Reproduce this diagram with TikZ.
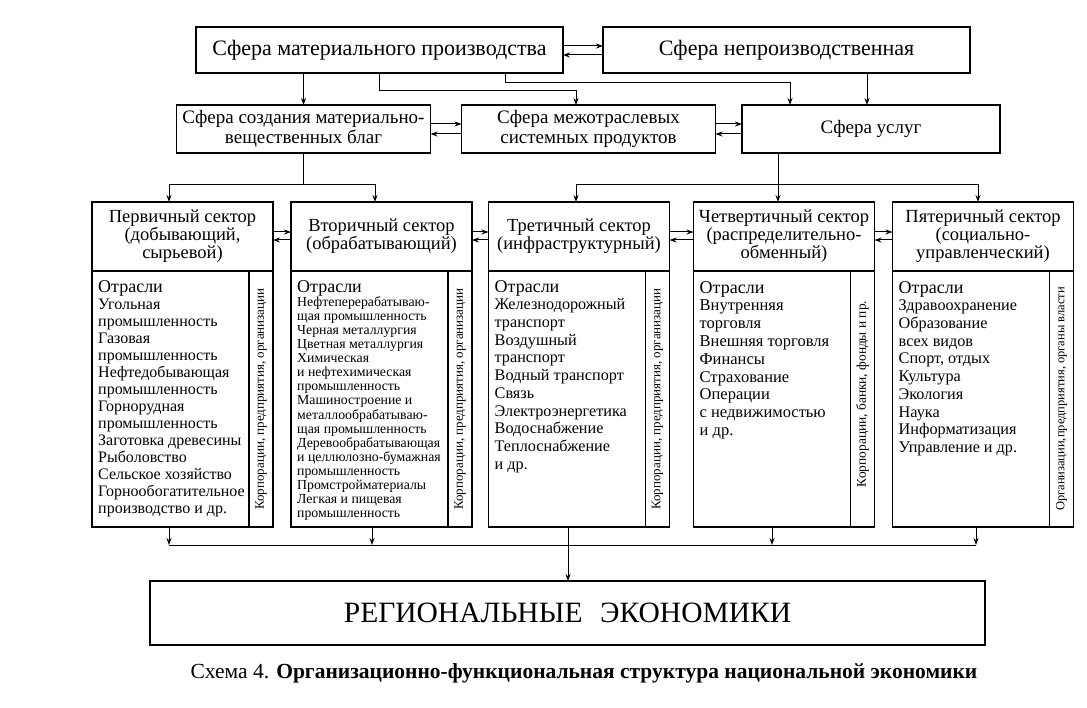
\documentclass[tikz,border=0pt]{standalone}
\usepackage{fontspec}
\setmainfont{Liberation Serif}
\usetikzlibrary{arrows.meta,calc,positioning}

\newcommand{\fs}[2]{\fontsize{#1}{#2}\selectfont}

\tikzset{
  sbox/.style={draw, line width=1.3pt, align=center, inner sep=1pt, outer sep=0pt},
  topbox/.style={sbox, minimum width=367pt, minimum height=46pt, font=\fs{22}{24}},
  midbox/.style={sbox, minimum width=254pt, minimum height=48pt, font=\fs{19}{20}},
  secthead/.style={sbox, minimum width=181pt, minimum height=69pt, font=\fs{18.5}{18}},
  sectbody/.style={draw, line width=1.3pt, minimum width=181pt, minimum height=256pt, outer sep=0pt},
  branches/.style={anchor=north west, align=left, inner sep=0pt},
  sidelabel/.style={rotate=90, inner sep=0pt, font=\fs{13}{14}},
  conn/.style={line width=1pt, -{Stealth[length=7pt,width=5pt]}},
  wire/.style={line width=1pt},
}

\begin{document}
\begin{tikzpicture}[x=1pt,y=-1pt]
\useasboundingbox (0,0) rectangle (1087,708);

% first level: the two spheres
\node[topbox] (matprod) at (379.5,50) {Сфера материального производства};
\node[topbox] (neprod) at (786.5,50) {Сфера непроизводственная};
\draw[conn] ([yshift=4pt]matprod.east) -- ([yshift=4pt]neprod.west);
\draw[conn] ([yshift=-5pt]neprod.west) -- ([yshift=-5pt]matprod.east);

% second level
\node[midbox] (sozd) at (303.5,129) {Сфера создания материально-\\вещественных благ};
\node[midbox] (mezh) at (588.5,129) {Сфера межотраслевых\\системных продуктов};
\node[midbox, minimum width=258pt] (uslug) at (871,129) {Сфера услуг};
\draw[conn] ([yshift=5pt]sozd.east) -- ([yshift=5pt]mezh.west);
\draw[conn] ([yshift=-5pt]mezh.west) -- ([yshift=-5pt]sozd.east);
\draw[conn] ([yshift=5pt]mezh.east) -- ([yshift=5pt]uslug.west);
\draw[conn] ([yshift=-5pt]uslug.west) -- ([yshift=-5pt]mezh.east);

% links from the first level down
\draw[conn] (sozd.north |- matprod.south) -- (sozd.north);
\draw[conn] (matprod.south) |- ($(mezh.north)+(-12.5,-14)$) -- ($(mezh.north)+(-12.5,0)$);
\draw[conn] ([xshift=126pt]matprod.south) |- ($(uslug.north)+(-81,-22)$) -- ($(uslug.north)+(-81,0)$);
\coordinate (nepdown) at ($(uslug.north)+(-4,0)$);
\draw[conn] (nepdown |- neprod.south) -- (nepdown);

% sectors: heads
\node[secthead] (s1) at (182.5,236.5) {Первичный сектор\\(добывающий,\\сырьевой)};
\node[secthead] (s2) at (381.5,236.5) {Вторичный сектор\\(обрабатывающий)};
\node[secthead] (s3) at (579,236.5) {Третичный сектор\\(инфраструктурный)};
\node[secthead] (s4) at (784,236.5) {Четвертичный сектор\\(распределительно-\\обменный)};
\node[secthead] (s5) at (983,236.5) {Пятеричный сектор\\(социально-\\управленческий)};

\foreach \a/\b in {s1/s2,s2/s3,s3/s4,s4/s5} {
  \draw[conn] ([yshift=4.5pt]\a.east) -- ([yshift=4.5pt]\b.west);
  \draw[conn] ([yshift=-3.5pt]\b.west) -- ([yshift=-3.5pt]\a.east);
}

% links from the second level to the sectors
\draw[conn] (sozd.south) -- ++(0,32) -| ($(s1.north)+(-13.5,0)$);
\draw[conn] (sozd.south) ++(0,32) -| ($(s2.north)+(-6.5,0)$);
\draw[conn] ($(uslug.south)+(-93,0)$) -- ($(s4.north)+(-6,0)$);
\draw[conn] ($(uslug.south)+(-93,32)$) -| ($(s3.north)+(-3,0)$);
\draw[conn] ($(uslug.south)+(-93,32)$) -| ($(s5.north)+(-5,0)$);

% sectors: bodies with branches and a side strip
\foreach \s in {s1,s2,s3,s4,s5} {
  \node[sectbody, below=0pt of \s] (\s b) {};
  \draw[line width=1.1pt] ($(\s b.north east)+(-24,0)$) -- ($(\s b.south east)+(-24,0)$);
}

\node[branches, font=\fs{16}{17}] (s1t) at ($(s1b.north west)+(6,9)$)
  {{\fs{18}{17}Отрасли}\\Угольная\\промышленность\\Газовая\\промышленность\\Нефтедобывающая\\промышленность\\Горнорудная\\промышленность\\Заготовка древесины\\Рыболовство\\Сельское хозяйство\\Горнообогатительное\\производство и др.};
\node[branches, font=\fs{13.8}{14.1}] (s2t) at ($(s2b.north west)+(6,9)$)
  {{\fs{18}{16}Отрасли}\\Нефтеперерабатываю-\\щая промышленность\\Черная металлургия\\Цветная металлургия\\Химическая\\и нефтехимическая\\промышленность\\Машиностроение и\\металлообрабатываю-\\щая промышленность\\Деревообрабатывающая\\и целлюлозно-бумажная\\промышленность\\Промстройматериалы\\Легкая и пищевая\\промышленность};
\node[branches, font=\fs{16.2}{17.7}] (s3t) at ($(s3b.north west)+(6,9)$)
  {{\fs{18}{18}Отрасли}\\Железнодорожный\\транспорт\\Воздушный\\транспорт\\Водный транспорт\\Связь\\Электроэнергетика\\Водоснабжение\\Теплоснабжение\\и др.};
\node[branches, font=\fs{16.5}{17.8}] (s4t) at ($(s4b.north west)+(6,10)$)
  {{\fs{18}{18}Отрасли}\\Внутренняя\\торговля\\Внешняя торговля\\Финансы\\Страхование\\Операции\\с недвижимостью\\и др.};
\node[branches, font=\fs{16.2}{17.7}] (s5t) at ($(s5b.north west)+(6,10)$)
  {{\fs{18}{18}Отрасли}\\Здравоохранение\\Образование\\всех видов\\Спорт, отдых\\Культура\\Экология\\Наука\\Информатизация\\Управление и др.};

\node[sidelabel] (s1k) at ($(s1b.east)+(-12,0)$) {Корпорации, предприятия, организации};
\node[sidelabel] (s2k) at ($(s2b.east)+(-12,0)$) {Корпорации, предприятия, организации};
\node[sidelabel] (s3k) at ($(s3b.east)+(-12,0)$) {Корпорации, предприятия, организации};
\node[sidelabel, font=\fs{13.4}{14}] (s4k) at ($(s4b.east)+(-12,-5)$) {Корпорации, банки, фонды и пр.};
\node[sidelabel, font=\fs{12.5}{14}] (s5k) at ($(s5b.east)+(-12,0)$) {Организации,предприятия, органы власти};

% regional level
\node[sbox, minimum width=835pt, minimum height=64pt, font=\fs{29.5}{32}] (region) at (567.5,613)
  {РЕГИОНАЛЬНЫЕ\hspace{0.6em}ЭКОНОМИКИ};

\draw[conn] ($(s1b.south)+(-13.5,0)$) -- ++(0,18);
\draw[conn] ($(s2b.south)+(-9.5,0)$) -- ++(0,18);
\draw[conn] ($(s4b.south)+(-12,0)$) -- ++(0,18);
\draw[conn] ($(s5b.south)+(-7,0)$) -- ++(0,18);
\draw[wire] ($(s1b.south)+(-13.5,18)$) -- ($(s5b.south)+(-7,18)$);
\coordinate (s3out) at ($(s3b.south)+(-11,0)$);
\draw[conn] (s3out) -- (s3out |- region.north);

% caption
\node[font=\fs{21.5}{24}] (caption) at (584,673)
  {Схема 4. \textbf{Организационно-функциональная структура национальной экономики}};
\end{tikzpicture}
\end{document}
